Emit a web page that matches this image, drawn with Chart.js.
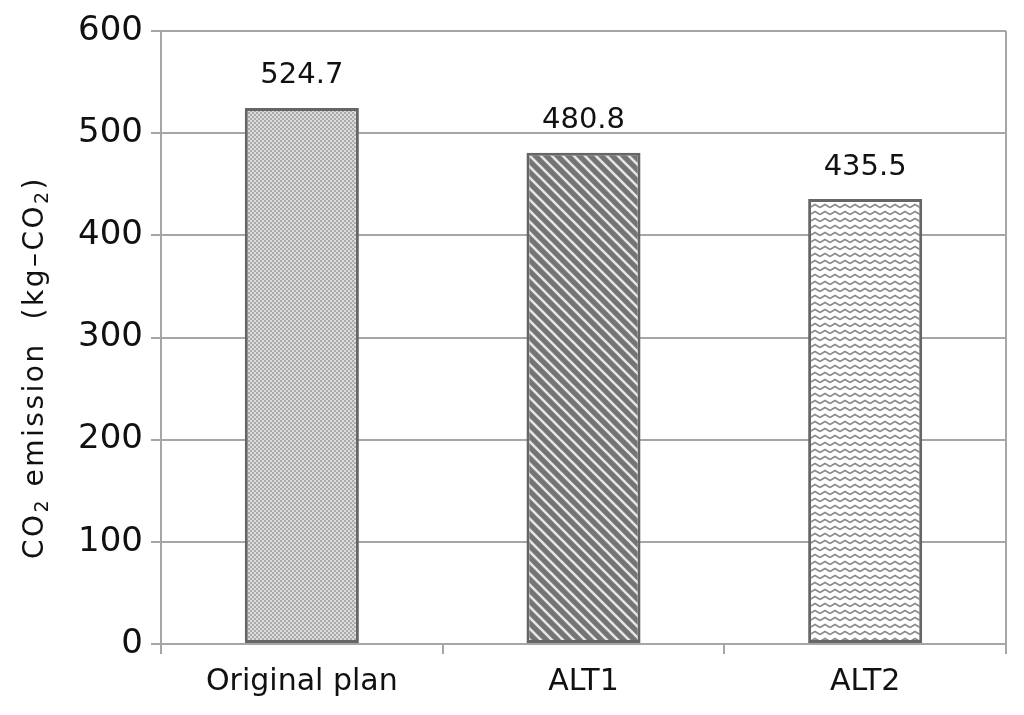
<!DOCTYPE html>
<html>
<head>
<meta charset="utf-8">
<script src="https://cdn.jsdelivr.net/npm/chart.js@4"></script>
<style>
  html, body { margin: 0; padding: 0; background: #fff; }
  #wrap { width: 1024px; height: 715px; }
</style>
</head>
<body>
<div id="wrap"><canvas id="chart" width="1024" height="715"></canvas></div>
<script>
// data
const categories = ['Original plan', 'ALT1', 'ALT2'];
const emissions = [524.7, 480.8, 435.5];
const yTicks = [0, 100, 200, 300, 400, 500, 600];

const GRID = '#a6a6a6';
const FONT = '"DejaVu Sans", "Liberation Sans", sans-serif';

// 패턴 생성
function makePattern(w, h, draw) {
    const c = document.createElement('canvas');
    c.width = w; c.height = h;
    const g = c.getContext('2d');
    draw(g, w, h);
    return g.createPattern(c, 'repeat');
}

const dotPattern = makePattern(4, 4, (g) => {
    g.fillStyle = '#dcdcdc';
    g.fillRect(0, 0, 4, 4);
    g.fillStyle = '#ababab';
    g.fillRect(0, 0, 2, 2);
    g.fillRect(2, 2, 2, 2);
});

const stripePattern = makePattern(11, 11, (g) => {
    g.fillStyle = '#747474';
    g.fillRect(0, 0, 11, 11);
    g.strokeStyle = '#e6e6e6';
    g.lineWidth = 2.6;
    for (const o of [-11, 0, 11]) {
        g.beginPath();
        g.moveTo(o - 1, -1);
        g.lineTo(o + 12, 12);
        g.stroke();
    }
});

const wavePattern = makePattern(10, 7, (g) => {
    g.fillStyle = '#ffffff';
    g.fillRect(0, 0, 10, 7);
    g.strokeStyle = '#8a8a8a';
    g.lineWidth = 1.6;
    g.beginPath();
    g.moveTo(0, 4.5);
    g.lineTo(5, 1.5);
    g.lineTo(10, 4.5);
    g.stroke();
});

// 값 라벨
const valueLabels = {
    id: 'valueLabels',
    afterDatasetsDraw(chart) {
        const ctx = chart.ctx;
        const meta = chart.getDatasetMeta(0);
        ctx.save();
        ctx.font = '29px ' + FONT;
        ctx.fillStyle = '#111';
        ctx.textAlign = 'center';
        ctx.textBaseline = 'middle';
        meta.data.forEach((bar, i) => {
            ctx.fillText(emissions[i].toFixed(1), bar.x, bar.y - 32);
        });
        ctx.restore();
    }
};

// 오른쪽 테두리 + 세로 축 제목 (아래 첨자 포함)
const frameAndTitle = {
    id: 'frameAndTitle',
    afterDraw(chart) {
        const a = chart.chartArea;
        const ctx = chart.ctx;
        ctx.save();
        ctx.strokeStyle = GRID;
        ctx.lineWidth = 2;
        ctx.beginPath();
        ctx.moveTo(a.right, a.top);
        ctx.lineTo(a.right, a.bottom + 10);
        ctx.stroke();

        const parts = [
            ['CO', false], ['2', true], [' emission  (kg\u2013CO', false], ['2', true], [')', false]
        ];
        const big = '28px ' + FONT, small = '19px ' + FONT;
        ctx.letterSpacing = '2.5px';
        let total = 0;
        for (const [t, sub] of parts) {
            ctx.font = sub ? small : big;
            total += ctx.measureText(t).width;
        }
        ctx.translate(36, (a.top + a.bottom) / 2 + 30);
        ctx.rotate(-Math.PI / 2);
        ctx.fillStyle = '#111';
        ctx.textBaseline = 'middle';
        let x = -total / 2;
        for (const [t, sub] of parts) {
            ctx.font = sub ? small : big;
            ctx.fillText(t, x, sub ? 7 : 0);
            x += ctx.measureText(t).width;
        }
        ctx.restore();
    }
};

new Chart(document.getElementById('chart'), {
    type: 'bar',
    data: {
        labels: categories,
        datasets: [{
            data: emissions,
            backgroundColor: [dotPattern, stripePattern, wavePattern],
            borderColor: '#666666',
            borderWidth: 3,
            borderSkipped: false,
            barPercentage: 0.405,
            categoryPercentage: 1
        }]
    },
    options: {
        responsive: false,
        animation: false,
        layout: { padding: { top: 31, right: 18, left: 0, bottom: 0 } },
        plugins: {
            legend: { display: false },
            tooltip: { enabled: false }
        },
        scales: {
            x: {
                offset: true,
                grid: {
                    offset: true,
                    drawOnChartArea: false,
                    tickLength: 10,
                    tickColor: GRID,
                    lineWidth: 2
                },
                border: { color: GRID, width: 2 },
                ticks: {
                    color: '#111',
                    padding: 10,
                    font: { family: FONT, size: 30 }
                },
                afterFit(scale) { scale.height = 71; }
            },
            y: {
                min: 0,
                max: 600,
                afterBuildTicks(scale) {
                    scale.ticks = yTicks.map(v => ({ value: v }));
                },
                grid: {
                    color: GRID,
                    lineWidth: 2,
                    tickLength: 10
                },
                border: { color: GRID, width: 2 },
                ticks: {
                    color: '#111',
                    padding: 8,
                    font: { family: FONT, size: 34 }
                },
                afterFit(scale) { scale.width = 161; }
            }
        }
    },
    plugins: [valueLabels, frameAndTitle]
});
</script>
</body>
</html>
